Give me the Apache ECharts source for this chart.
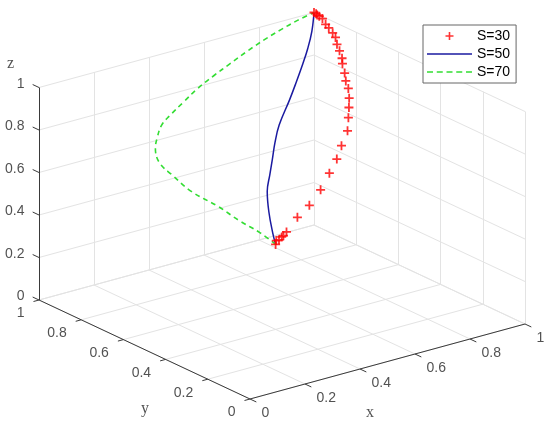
<!DOCTYPE html>
<html>
<head>
<meta charset="utf-8">
<script src="https://cdn.jsdelivr.net/npm/echarts@6/dist/echarts.min.js"></script>
<style>
  html, body { margin: 0; padding: 0; background: #fff; }
  #main { width: 550px; height: 425px; }
</style>
</head>
<body>
<div id="main"></div>
<script>
// tick values / labels (same on x, y, z)
var ticks = [0, 0.2, 0.4, 0.6, 0.8, 1];
var tickLabels = ['0', '0.2', '0.4', '0.6', '0.8', '1'];

// S=30 (red +)
var s30x = [0.40, 0.41, 0.42, 0.43, 0.44, 0.455, 0.51, 0.565, 0.625, 0.68, 0.73, 0.77, 0.815, 0.845, 0.87, 0.89,
            0.91, 0.92, 0.935, 0.95, 0.96, 0.97, 0.98, 0.99, 0.995, 1.0, 1.0, 1.0, 1.0, 1.0, 1.0, 1.0];
var s30y = [0.40, 0.41, 0.41, 0.41, 0.415, 0.42, 0.44, 0.455, 0.48, 0.51, 0.54, 0.57, 0.60, 0.635, 0.665, 0.69,
            0.72, 0.745, 0.77, 0.80, 0.815, 0.84, 0.865, 0.885, 0.905, 0.93, 0.945, 0.96, 0.975, 0.985, 0.99, 1.0];
var s30z = [0.40, 0.41, 0.41, 0.42, 0.42, 0.43, 0.47, 0.50, 0.54, 0.585, 0.62, 0.655, 0.695, 0.73, 0.755, 0.78,
            0.805, 0.825, 0.845, 0.87, 0.885, 0.905, 0.92, 0.94, 0.95, 0.96, 0.97, 0.99, 0.994, 0.995, 0.999, 1.0];

// S=50 (blue solid)
var s50x = [0.40, 0.42, 0.46, 0.50, 0.54, 0.58, 0.62, 0.67, 0.75, 0.795, 0.86, 0.90, 0.95, 1.0];
var s50y = [0.40, 0.44, 0.51, 0.57, 0.61, 0.65, 0.69, 0.735, 0.79, 0.82, 0.87, 0.90, 0.945, 1.0];
var s50z = [0.40, 0.43, 0.48, 0.535, 0.58, 0.62, 0.665, 0.71, 0.775, 0.82, 0.87, 0.91, 0.955, 1.0];

// S=70 (green dashed)
var s70x = [0.40, 0.39, 0.37, 0.35, 0.325, 0.315, 0.315, 0.335, 0.36, 0.40, 0.44, 0.50, 0.56, 0.63, 0.69, 0.76, 0.82, 0.88, 0.94, 1.0];
var s70y = [0.40, 0.46, 0.53, 0.61, 0.70, 0.78, 0.84, 0.885, 0.91, 0.94, 0.953, 0.967, 0.98, 0.99, 0.995, 1.0, 1.0, 1.0, 1.0, 1.0];
var s70z = [0.40, 0.43, 0.46, 0.50, 0.535, 0.58, 0.61, 0.65, 0.675, 0.71, 0.735, 0.77, 0.805, 0.84, 0.87, 0.905, 0.936, 0.962, 0.984, 1.0];

// view: screen position of the origin and of the three unit axes
var O = [250, 399], EX = [275, -75], EY = [-211, -99], EZ = [0, -212.5];
function proj(p) {
  return [O[0] + EX[0] * p[0] + EY[0] * p[1] + EZ[0] * p[2],
          O[1] + EX[1] * p[0] + EY[1] * p[1] + EZ[1] * p[2]];
}
function seg(a, b) { return { coords: [proj(a), proj(b)] }; }
function pts(xs, ys, zs) {
  var out = [];
  for (var i = 0; i < xs.length; i++) out.push(proj([xs[i], ys[i], zs[i]]));
  return out;
}

var gridSegs = [], axisSegs = [], tickSegs = [];
ticks.forEach(function (t) {
  gridSegs.push(seg([t, 0, 0], [t, 1, 0]), seg([0, t, 0], [1, t, 0]));
  gridSegs.push(seg([t, 1, 0], [t, 1, 1]), seg([0, 1, t], [1, 1, t]));
  gridSegs.push(seg([1, t, 0], [1, t, 1]), seg([1, 0, t], [1, 1, t]));
  tickSegs.push(seg([t, 0, 0], [t, -0.03, 0]));
  tickSegs.push(seg([0, t, 0], [-0.02, t, 0]));
  tickSegs.push(seg([0, 1, t], [0, 1.03, t]));
});
axisSegs.push(seg([0, 0, 0], [1, 0, 0]), seg([0, 0, 0], [0, 1, 0]), seg([0, 1, 0], [0, 1, 1]));

function labelData(fn, dx, dy) {
  return ticks.map(function (t, i) {
    var p = proj(fn(t));
    return { value: [p[0] + dx, p[1] + dy], name: tickLabels[i] };
  });
}
function labelSeries(data, align, font, size) {
  return {
    type: 'scatter', data: data, symbolSize: 1, silent: true,
    itemStyle: { color: 'rgba(0,0,0,0)' },
    label: {
      show: true, position: [0, 0], align: align, verticalAlign: 'middle',
      formatter: '{b}', color: '#262626', fontSize: size || 14,
      fontFamily: font || 'Liberation Sans, Arial, sans-serif'
    }
  };
}
function titleData(p, dx, dy, txt) {
  var q = proj(p);
  return [{ value: [q[0] + dx, q[1] + dy], name: txt }];
}

var plusPath = 'path://M4,0H6V4H10V6H6V10H4V6H0V4H4Z';
var solidIcon = 'path://M0,0H45V1.5H0Z';
var dashIcon = 'path://M0,0H6V1.6H0Z M9.75,0H15.75V1.6H9.75Z M19.5,0H25.5V1.6H19.5Z M29.25,0H35.25V1.6H29.25Z M39,0H45V1.6H39Z';
var serif = 'Liberation Serif, Times New Roman, serif';

var chart = echarts.init(document.getElementById('main'));
var option = {
  backgroundColor: '#ffffff',
  animation: false,
  grid: { left: 0, right: 0, top: 0, bottom: 0 },
  xAxis: { type: 'value', min: 0, max: 550, show: false },
  yAxis: { type: 'value', min: 0, max: 425, inverse: true, show: false },
  legend: {
    data: [{ name: 'S=30', icon: plusPath }, { name: 'S=50', icon: solidIcon }, { name: 'S=70', icon: dashIcon }],
    orient: 'vertical', left: 423, top: 25,
    itemWidth: 45, itemHeight: 8, itemGap: 4,
    padding: [4, 6, 4, 4],
    borderColor: '#666', borderWidth: 1, backgroundColor: '#fff',
    textStyle: { fontSize: 14, color: '#000', fontFamily: 'Liberation Sans, Arial, sans-serif' }
  },
  series: [
    { type: 'lines', coordinateSystem: 'cartesian2d', data: gridSegs, silent: true, z: 1,
      lineStyle: { color: '#e3e3e3', width: 1, opacity: 1 } },
    { type: 'lines', coordinateSystem: 'cartesian2d', data: axisSegs.concat(tickSegs), silent: true, z: 2,
      lineStyle: { color: '#3a3a3a', width: 1, opacity: 1 } },
    labelSeries(labelData(function (t) { return [t, 0, 0]; }, 12, 15), 'left'),
    labelSeries(labelData(function (t) { return [0, t, 0]; }, -14, 14), 'right'),
    labelSeries(labelData(function (t) { return [0, 1, t]; }, -14, -3), 'right'),
    labelSeries(titleData([0.5, 0, 0], -17, 52, 'x'), 'center', serif, 16),
    labelSeries(titleData([0, 0.5, 0], 1, 60, 'y'), 'center', serif, 16),
    labelSeries(titleData([0, 1, 1], -28, -23, 'z'), 'center', serif, 16),
    { name: 'S=30', type: 'scatter', data: pts(s30x, s30y, s30z), z: 5,
      symbol: plusPath, symbolSize: 9, itemStyle: { color: '#ff0000' } },
    { name: 'S=50', type: 'line', data: pts(s50x, s50y, s50z), z: 4, smooth: 0.4,
      symbol: 'none', itemStyle: { color: '#1a1aa0' }, lineStyle: { color: '#1a1aa0', width: 1.5 } },
    { name: 'S=70', type: 'line', data: pts(s70x, s70y, s70z), z: 4, smooth: 0.4,
      symbol: 'none', itemStyle: { color: '#33dd33' }, lineStyle: { color: '#33dd33', width: 1.6, type: [5, 4] } }
  ]
};
chart.setOption(option);
</script>
</body>
</html>
